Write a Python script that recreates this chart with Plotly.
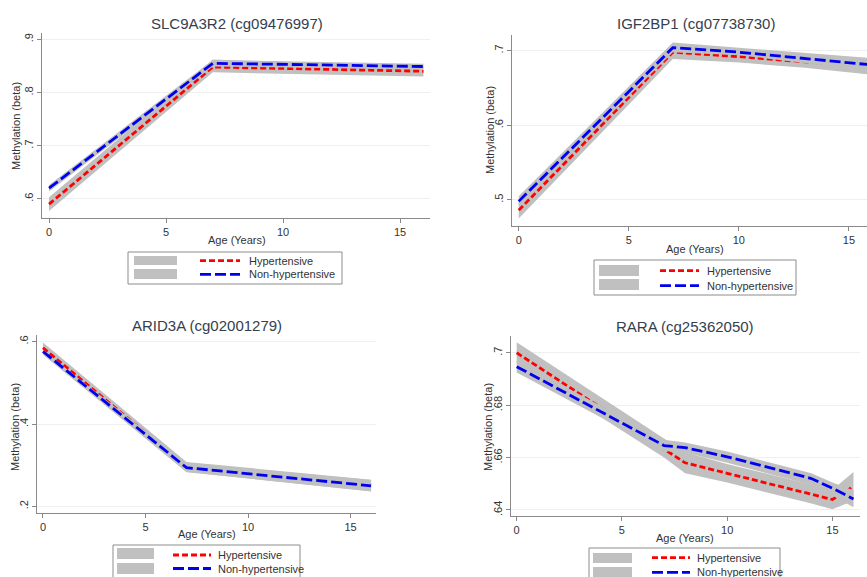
import plotly.graph_objects as go

# ---------------- data ----------------
titles = ["SLC9A3R2 (cg09476997)", "IGF2BP1 (cg07738730)", "ARID3A (cg02001279)", "RARA (cg25362050)"]
series_names = ["Hypertensive", "Non-hypertensive"]

# Panel 1: SLC9A3R2
p1_age = [0, 7, 16]
p1_hyp = [0.590, 0.848, 0.840]
p1_hyp_lo = [0.577, 0.838, 0.830]
p1_hyp_hi = [0.603, 0.862, 0.850]
p1_non = [0.620, 0.855, 0.849]
p1_non_lo = [0.614, 0.849, 0.844]
p1_non_hi = [0.626, 0.861, 0.854]
p1_yticks = [0.6, 0.7, 0.8, 0.9]
p1_ytext = [".6", ".7", ".8", ".9"]

# Panel 2: IGF2BP1
p2_age = [0, 7, 10, 13, 16]
p2_hyp = [0.486, 0.698, 0.692, 0.685, 0.678]
p2_hyp_lo = [0.475, 0.689, 0.684, 0.677, 0.668]
p2_hyp_hi = [0.497, 0.708, 0.700, 0.694, 0.688]
p2_non = [0.498, 0.704, 0.698, 0.690, 0.681]
p2_non_lo = [0.492, 0.698, 0.694, 0.683, 0.673]
p2_non_hi = [0.505, 0.711, 0.704, 0.697, 0.690]
p2_yticks = [0.5, 0.6, 0.7]
p2_ytext = [".5", ".6", ".7"]

# Panel 3: ARID3A
p3_age = [0, 7, 16]
p3_hyp = [0.585, 0.296, 0.252]
p3_hyp_lo = [0.572, 0.283, 0.237]
p3_hyp_hi = [0.598, 0.308, 0.265]
p3_non = [0.576, 0.294, 0.250]
p3_non_lo = [0.568, 0.284, 0.236]
p3_non_hi = [0.579, 0.305, 0.264]
p3_yticks = [0.2, 0.4, 0.6]
p3_ytext = [".2", ".4", ".6"]

# Panel 4: RARA
p4_age = [0, 7, 8, 10, 14, 15, 16]
p4_hyp = [0.700, 0.6635, 0.658, 0.654, 0.646, 0.644, 0.649]
p4_hyp_lo = [0.696, 0.660, 0.654, 0.6505, 0.6425, 0.6403, 0.6435]
p4_hyp_hi = [0.704, 0.667, 0.662, 0.6575, 0.6495, 0.6477, 0.6545]
p4_non = [0.6947, 0.6646, 0.6638, 0.6603, 0.6520, 0.6483, 0.6442]
p4_non_lo = [0.6925, 0.6625, 0.6618, 0.658, 0.6495, 0.6455, 0.641]
p4_non_hi = [0.697, 0.6668, 0.6658, 0.6623, 0.654, 0.6505, 0.6475]
p4_yticks = [0.64, 0.66, 0.68, 0.7]
p4_ytext = [".64", ".66", ".68", ".7"]

x_ticks = [0, 5, 10, 15]
x_ticktext = ["0", "5", "10", "15"]

# ---------------- layout helpers ----------------
W, H = 867, 577
def px(x):
    return x / W
def py(y):
    return 1 - y / H

FONT = "Liberation Sans, Arial, sans-serif"
BAND = "#c0c0c0"
RED = "#ff0000"
BLUE = "#0000f0"
RED_DASH = "6px,3px"
BLUE_DASH = "11px,4px"
LW = 2.8

panels = [
    dict(age=p1_age, hyp=p1_hyp, hlo=p1_hyp_lo, hhi=p1_hyp_hi, non=p1_non, nlo=p1_non_lo, nhi=p1_non_hi,
         yt=p1_yticks, ytt=p1_ytext, box=(42, 33, 430, 218), xr=[-0.3, 16.28], yr=[0.564, 0.912],
         title_xy=(237, 24), xt_xy=(237, 240), yt_xy=(16, 126),
         leg=dict(box=(128, 252, 342, 284), sw=(134, 177), rows=[(256, 265), (269, 279)],
                  ln=(200, 240), ly=[260.7, 274.3], tx=247)),
    dict(age=p2_age, hyp=p2_hyp, hlo=p2_hyp_lo, hhi=p2_hyp_hi, non=p2_non, nlo=p2_non_lo, nhi=p2_non_hi,
         yt=p2_yticks, ytt=p2_ytext, box=(512, 35, 867, 226), xr=[-0.305, 15.82], yr=[0.465, 0.721],
         title_xy=(696, 24), xt_xy=(695, 249), yt_xy=(490, 130),
         leg=dict(box=(594, 260, 796, 295), sw=(599, 639), rows=[(265, 276), (279, 290)],
                  ln=(660, 699), ly=[270.7, 285.7], tx=705)),
    dict(age=p3_age, hyp=p3_hyp, hlo=p3_hyp_lo, hhi=p3_hyp_hi, non=p3_non, nlo=p3_non_lo, nhi=p3_non_hi,
         yt=p3_yticks, ytt=p3_ytext, box=(37, 335, 376, 513), xr=[-0.29, 16.24], yr=[0.184, 0.616],
         title_xy=(207, 325), xt_xy=(207, 534), yt_xy=(15, 427),
         leg=dict(box=(113, 545, 300, 582), sw=(117, 154), rows=[(548, 559), (563, 574)],
                  ln=(173, 211), ly=[555, 568.5], tx=216)),
    dict(age=p4_age, hyp=p4_hyp, hlo=p4_hyp_lo, hhi=p4_hyp_hi, non=p4_non, nlo=p4_non_lo, nhi=p4_non_hi,
         yt=p4_yticks, ytt=p4_ytext, box=(511, 336, 860, 516), xr=[-0.27, 16.31], yr=[0.6377, 0.7064],
         title_xy=(685, 326), xt_xy=(685, 538), yt_xy=(488, 427),
         leg=dict(box=(589, 548, 780, 585), sw=(593, 632), rows=[(553, 563), (567, 578)],
                  ln=(652, 690), ly=[557.7, 572.3], tx=695)),
]

fig = go.Figure()
layout = dict(
    width=W, height=H, margin=dict(l=0, r=0, t=0, b=0),
    paper_bgcolor="white", plot_bgcolor="white", showlegend=False,
    font=dict(family=FONT, size=11, color="#333333"),
)
annotations = []
shapes = []

for i, p in enumerate(panels):
    n = "" if i == 0 else str(i + 1)
    xa, ya = "x" + n, "y" + n
    x0, y0, x1, y1 = p["box"]
    # Hypertensive band + line
    fig.add_trace(go.Scatter(x=p["age"], y=p["hlo"], mode="lines", line=dict(width=0, color=BAND),
                             xaxis=xa, yaxis=ya, hoverinfo="skip"))
    fig.add_trace(go.Scatter(x=p["age"], y=p["hhi"], mode="lines", line=dict(width=0, color=BAND),
                             fill="tonexty", fillcolor=BAND, xaxis=xa, yaxis=ya, hoverinfo="skip"))
    fig.add_trace(go.Scatter(x=p["age"], y=p["hyp"], mode="lines", name=series_names[0],
                             line=dict(color=RED, width=LW, dash=RED_DASH), xaxis=xa, yaxis=ya))
    # Non-hypertensive band + line
    fig.add_trace(go.Scatter(x=p["age"], y=p["nlo"], mode="lines", line=dict(width=0, color=BAND),
                             xaxis=xa, yaxis=ya, hoverinfo="skip"))
    fig.add_trace(go.Scatter(x=p["age"], y=p["nhi"], mode="lines", line=dict(width=0, color=BAND),
                             fill="tonexty", fillcolor=BAND, xaxis=xa, yaxis=ya, hoverinfo="skip"))
    fig.add_trace(go.Scatter(x=p["age"], y=p["non"], mode="lines", name=series_names[1],
                             line=dict(color=BLUE, width=LW, dash=BLUE_DASH), xaxis=xa, yaxis=ya))

    layout["xaxis" + n] = dict(
        domain=[px(x0), px(x1)], anchor=ya, range=p["xr"],
        tickvals=x_ticks, ticktext=x_ticktext, ticks="outside", ticklen=4, tickcolor="#888888",
        showline=True, linecolor="#8a8a8a", linewidth=1, showgrid=False, zeroline=False,
        tickfont=dict(size=11, color="#333333"),
    )
    layout["yaxis" + n] = dict(
        domain=[py(y1), py(y0)], anchor=xa, range=p["yr"],
        tickvals=p["yt"], ticktext=p["ytt"], ticks="outside", ticklen=4, tickcolor="#888888",
        tickangle=-90, showline=True, linecolor="#8a8a8a", linewidth=1,
        showgrid=True, gridcolor="#efefef", gridwidth=1, zeroline=False,
        tickfont=dict(size=11, color="#333333"),
    )
    # titles
    annotations.append(dict(text=titles[i], x=px(p["title_xy"][0]), y=py(p["title_xy"][1]),
                            xref="paper", yref="paper", showarrow=False, xanchor="center", yanchor="middle",
                            font=dict(size=15, color="#34404e", family=FONT)))
    annotations.append(dict(text="Age (Years)", x=px(p["xt_xy"][0]), y=py(p["xt_xy"][1]),
                            xref="paper", yref="paper", showarrow=False, xanchor="center", yanchor="middle",
                            font=dict(size=11, color="#333333", family=FONT)))
    annotations.append(dict(text="Methylation (beta)", x=px(p["yt_xy"][0]), y=py(p["yt_xy"][1]),
                            xref="paper", yref="paper", showarrow=False, xanchor="center", yanchor="middle",
                            textangle=-90, font=dict(size=11, color="#333333", family=FONT)))
    # legend box
    lg = p["leg"]
    bx0, by0, bx1, by1 = lg["box"]
    shapes.append(dict(type="rect", xref="paper", yref="paper", x0=px(bx0), x1=px(bx1), y0=py(by1), y1=py(by0),
                       line=dict(color="#8c8c8c", width=1), fillcolor="white", layer="above"))
    for r, (ra, rb) in enumerate(lg["rows"]):
        shapes.append(dict(type="rect", xref="paper", yref="paper", x0=px(lg["sw"][0]), x1=px(lg["sw"][1]),
                           y0=py(rb), y1=py(ra), line=dict(width=0), fillcolor=BAND, layer="above"))
        shapes.append(dict(type="line", xref="paper", yref="paper", x0=px(lg["ln"][0]), x1=px(lg["ln"][1]),
                           y0=py(lg["ly"][r]), y1=py(lg["ly"][r]), layer="above",
                           line=dict(color=RED if r == 0 else BLUE, width=LW,
                                     dash=RED_DASH if r == 0 else BLUE_DASH)))
        annotations.append(dict(text=series_names[r], x=px(lg["tx"]), y=py(lg["ly"][r]),
                                xref="paper", yref="paper", showarrow=False, xanchor="left", yanchor="middle",
                                font=dict(size=11, color="#333333", family=FONT)))

layout["annotations"] = annotations
layout["shapes"] = shapes
fig.update_layout(**layout)
fig.write_html("out.html", config={"displayModeBar": False},
               post_script="document.body.style.margin='0';document.body.style.overflow='hidden';")
